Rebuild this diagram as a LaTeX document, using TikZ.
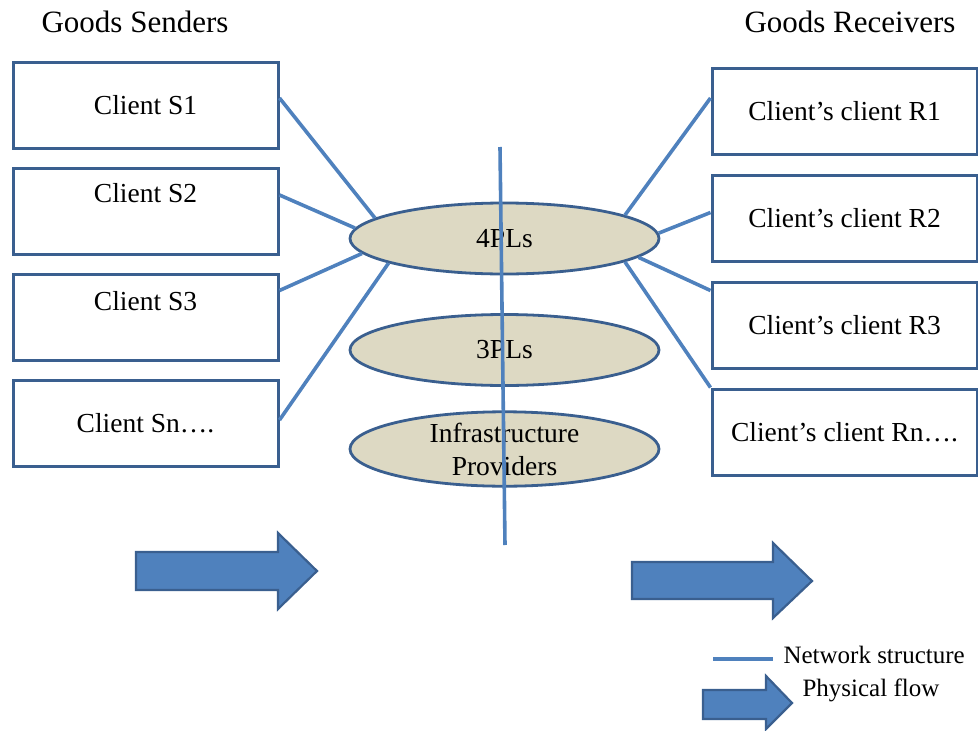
\documentclass[tikz,border=0pt]{standalone}
\usepackage{fontspec}
\setmainfont{Liberation Serif}
\usetikzlibrary{shapes.geometric}
\definecolor{netblue}{HTML}{4F81BD}
\definecolor{edgeblue}{HTML}{3A5F8F}
\definecolor{layerfill}{HTML}{DDD9C3}

\begin{document}
\begin{tikzpicture}[x=1pt,y=-1pt,
  client/.style={draw=edgeblue, line width=3pt, minimum width=265pt, minimum height=86pt, inner sep=0pt, font=\fontsize{27.5}{32}\selectfont},
  layer/.style={ellipse, draw=edgeblue, line width=2.8pt, fill=layerfill, minimum width=309pt, minimum height=71pt, inner sep=0pt, align=center, font=\fontsize{27.5}{33}\selectfont},
  net/.style={netblue, line width=3.6pt},
  flow/.style={fill=netblue, draw=edgeblue, line width=2.2pt, line join=miter},
  heading/.style={font=\fontsize{31}{36}\selectfont},
  legendtext/.style={font=\fontsize{25}{30}\selectfont}]
  \useasboundingbox (0,0) rectangle (978,731);
  % headings
  \node[heading] (senders) at (135,22) {Goods Senders};
  \node[heading] (receivers) at (850,22) {Goods Receivers};
  % senders
  \node[client] (s1) at (145.5,105) {Client S1};
  \node[client, text depth=36pt] (s2) at (145.5,211) {Client S2};
  \node[client, text depth=34pt] (s3) at (145.5,317.5) {Client S3};
  \node[client] (sn) at (145.5,423) {Client Sn….};
  % receivers
  \node[client] (r1) at (844.5,111) {Client's client R1};
  \node[client] (r2) at (844.5,218.5) {Client's client R2};
  \node[client] (r3) at (844.5,325.5) {Client's client R3};
  \node[client] (rn) at (844.5,432) {Client's client Rn….};
  % layers
  \node[layer] (p4) at (504.5,238.5) {4PLs};
  \node[layer] (p3) at (504.5,350) {3PLs};
  \node[layer] (infra) at (504.5,449) {Infrastructure\\Providers};
  % network lines
  \draw[net] ([yshift=7pt]s1.east) -- (p4.171);
  \draw[net] ([yshift=16pt]s2.east) -- (p4.176);
  \draw[net] ([yshift=27pt]s3.east) -- (p4.186);
  \draw[net] ([yshift=3pt]sn.east) -- (p4.192);
  \draw[net] ([yshift=13pt]r1.west) -- (p4.11);
  \draw[net] ([yshift=6pt]r2.west) -- (p4.2);
  \draw[net] ([yshift=35pt]r3.west) -- (p4.352);
  \draw[net] (rn.north west) -- (p4.349);
  \coordinate (axistop) at (500,147);
  \coordinate (axisbottom) at (505,545);
  \draw[net] (axistop) -- (axisbottom);
  % physical flow
  \draw[flow] (136,552) -- (278,552) -- (278,533) -- (317,571) -- (278,609) -- (278,590) -- (136,590) -- cycle;
  \draw[flow] (632,562) -- (773,562) -- (773,543) -- (812,581) -- (773,618) -- (773,599) -- (632,599) -- cycle;
  % legend
  \coordinate (keystart) at (713,659);
  \coordinate (keyend) at (773,659);
  \draw[net] (keystart) -- (keyend);
  \node[legendtext, anchor=west] (keynet) at (780,655) {Network structure};
  \draw[flow] (703,690) -- (766,690) -- (766,676) -- (792,703) -- (766,729) -- (766,719) -- (703,719) -- cycle;
  \node[legendtext, anchor=west] (keyflow) at (799,690) {Physical flow};
\end{tikzpicture}
\end{document}
